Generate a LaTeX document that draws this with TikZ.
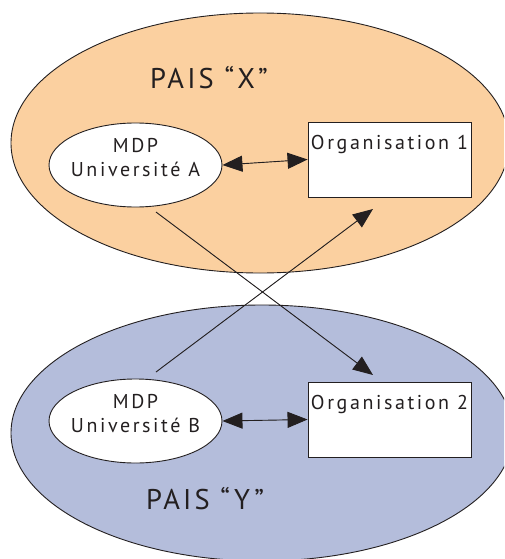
\documentclass[tikz,border=0pt]{standalone}
\usepackage{fontspec}
\setmainfont{PT Sans}
\newfontfamily\smallf{PT Sans}[LetterSpace=13]
\newfontfamily\bigf{PT Sans}[LetterSpace=11]
\usetikzlibrary{shapes.geometric,arrows.meta,calc}
\definecolor{paysX}{RGB}{251,208,160}
\definecolor{paysY}{RGB}{180,189,219}
\definecolor{trait}{RGB}{35,31,32}
\tikzset{
  pays/.style={draw=trait, line width=0.9pt},
  univ/.style={ellipse, draw=trait, fill=white, line width=0.9pt, minimum width=173pt, minimum height=84pt, inner sep=0pt},
  orgbox/.style={rectangle, draw=trait, fill=white, line width=0.9pt, minimum width=163pt, minimum height=75pt, inner sep=0pt},
  txt/.style={text=trait, font=\smallf\fontsize{20pt}{24pt}\selectfont, inner sep=0pt, align=center},
  paystxt/.style={text=trait, font=\bigf\fontsize{28.5pt}{30pt}\selectfont, inner sep=0pt},
  fleche/.style={draw=trait, fill=trait, line width=0.9pt, -{Triangle[length=20pt,width=16pt]}},
  dfleche/.style={draw=trait, fill=trait, line width=0.9pt, {Triangle[length=20pt,width=16pt]}-{Triangle[length=20pt,width=16pt]}}
}
\begin{document}
\begin{tikzpicture}[x=1pt,y=-1pt]
\useasboundingbox (0,0) rectangle (504,559);
\clip (0,0) rectangle (504,559);
\fill[white] (0,0) rectangle (504,559);
\filldraw[pays, fill=paysX] (260,143) ellipse [x radius=249pt, y radius=130pt];
\filldraw[pays, fill=paysY] (262,433) ellipse [x radius=251pt, y radius=128pt];
\node[paystxt] (px) at (209,78) {PAIS “X”};
\node[paystxt] (py) at (205,499) {PAIS “Y”};
\node[univ] (ua) at (135.5,165) {};
\node[txt] (uat) at (135.5,158) {MDP\\Université A};
\node[univ] (ub) at (135.5,421) {};
\node[txt] (ubt) at (135.5,414) {MDP\\Université B};
\node[orgbox] (o1) at (389.5,159.5) {};
\node[txt] (o1t) at ($(o1.north)+(0,23)$) {Organisation 1};
\node[orgbox] (o2) at (389.5,419.5) {};
\node[txt] (o2t) at ($(o2.north)+(0,23)$) {Organisation 2};
\draw[dfleche] (ua.east) -- (o1.west);
\draw[dfleche] (ub.east) -- (o2.west);
\coordinate (a1) at (156,212);
\coordinate (a2) at (373,375);
\coordinate (b1) at (156,372);
\coordinate (b2) at (373,209);
\draw[fleche] (a1) -- (a2);
\draw[fleche] (b1) -- (b2);
\end{tikzpicture}
\end{document}
